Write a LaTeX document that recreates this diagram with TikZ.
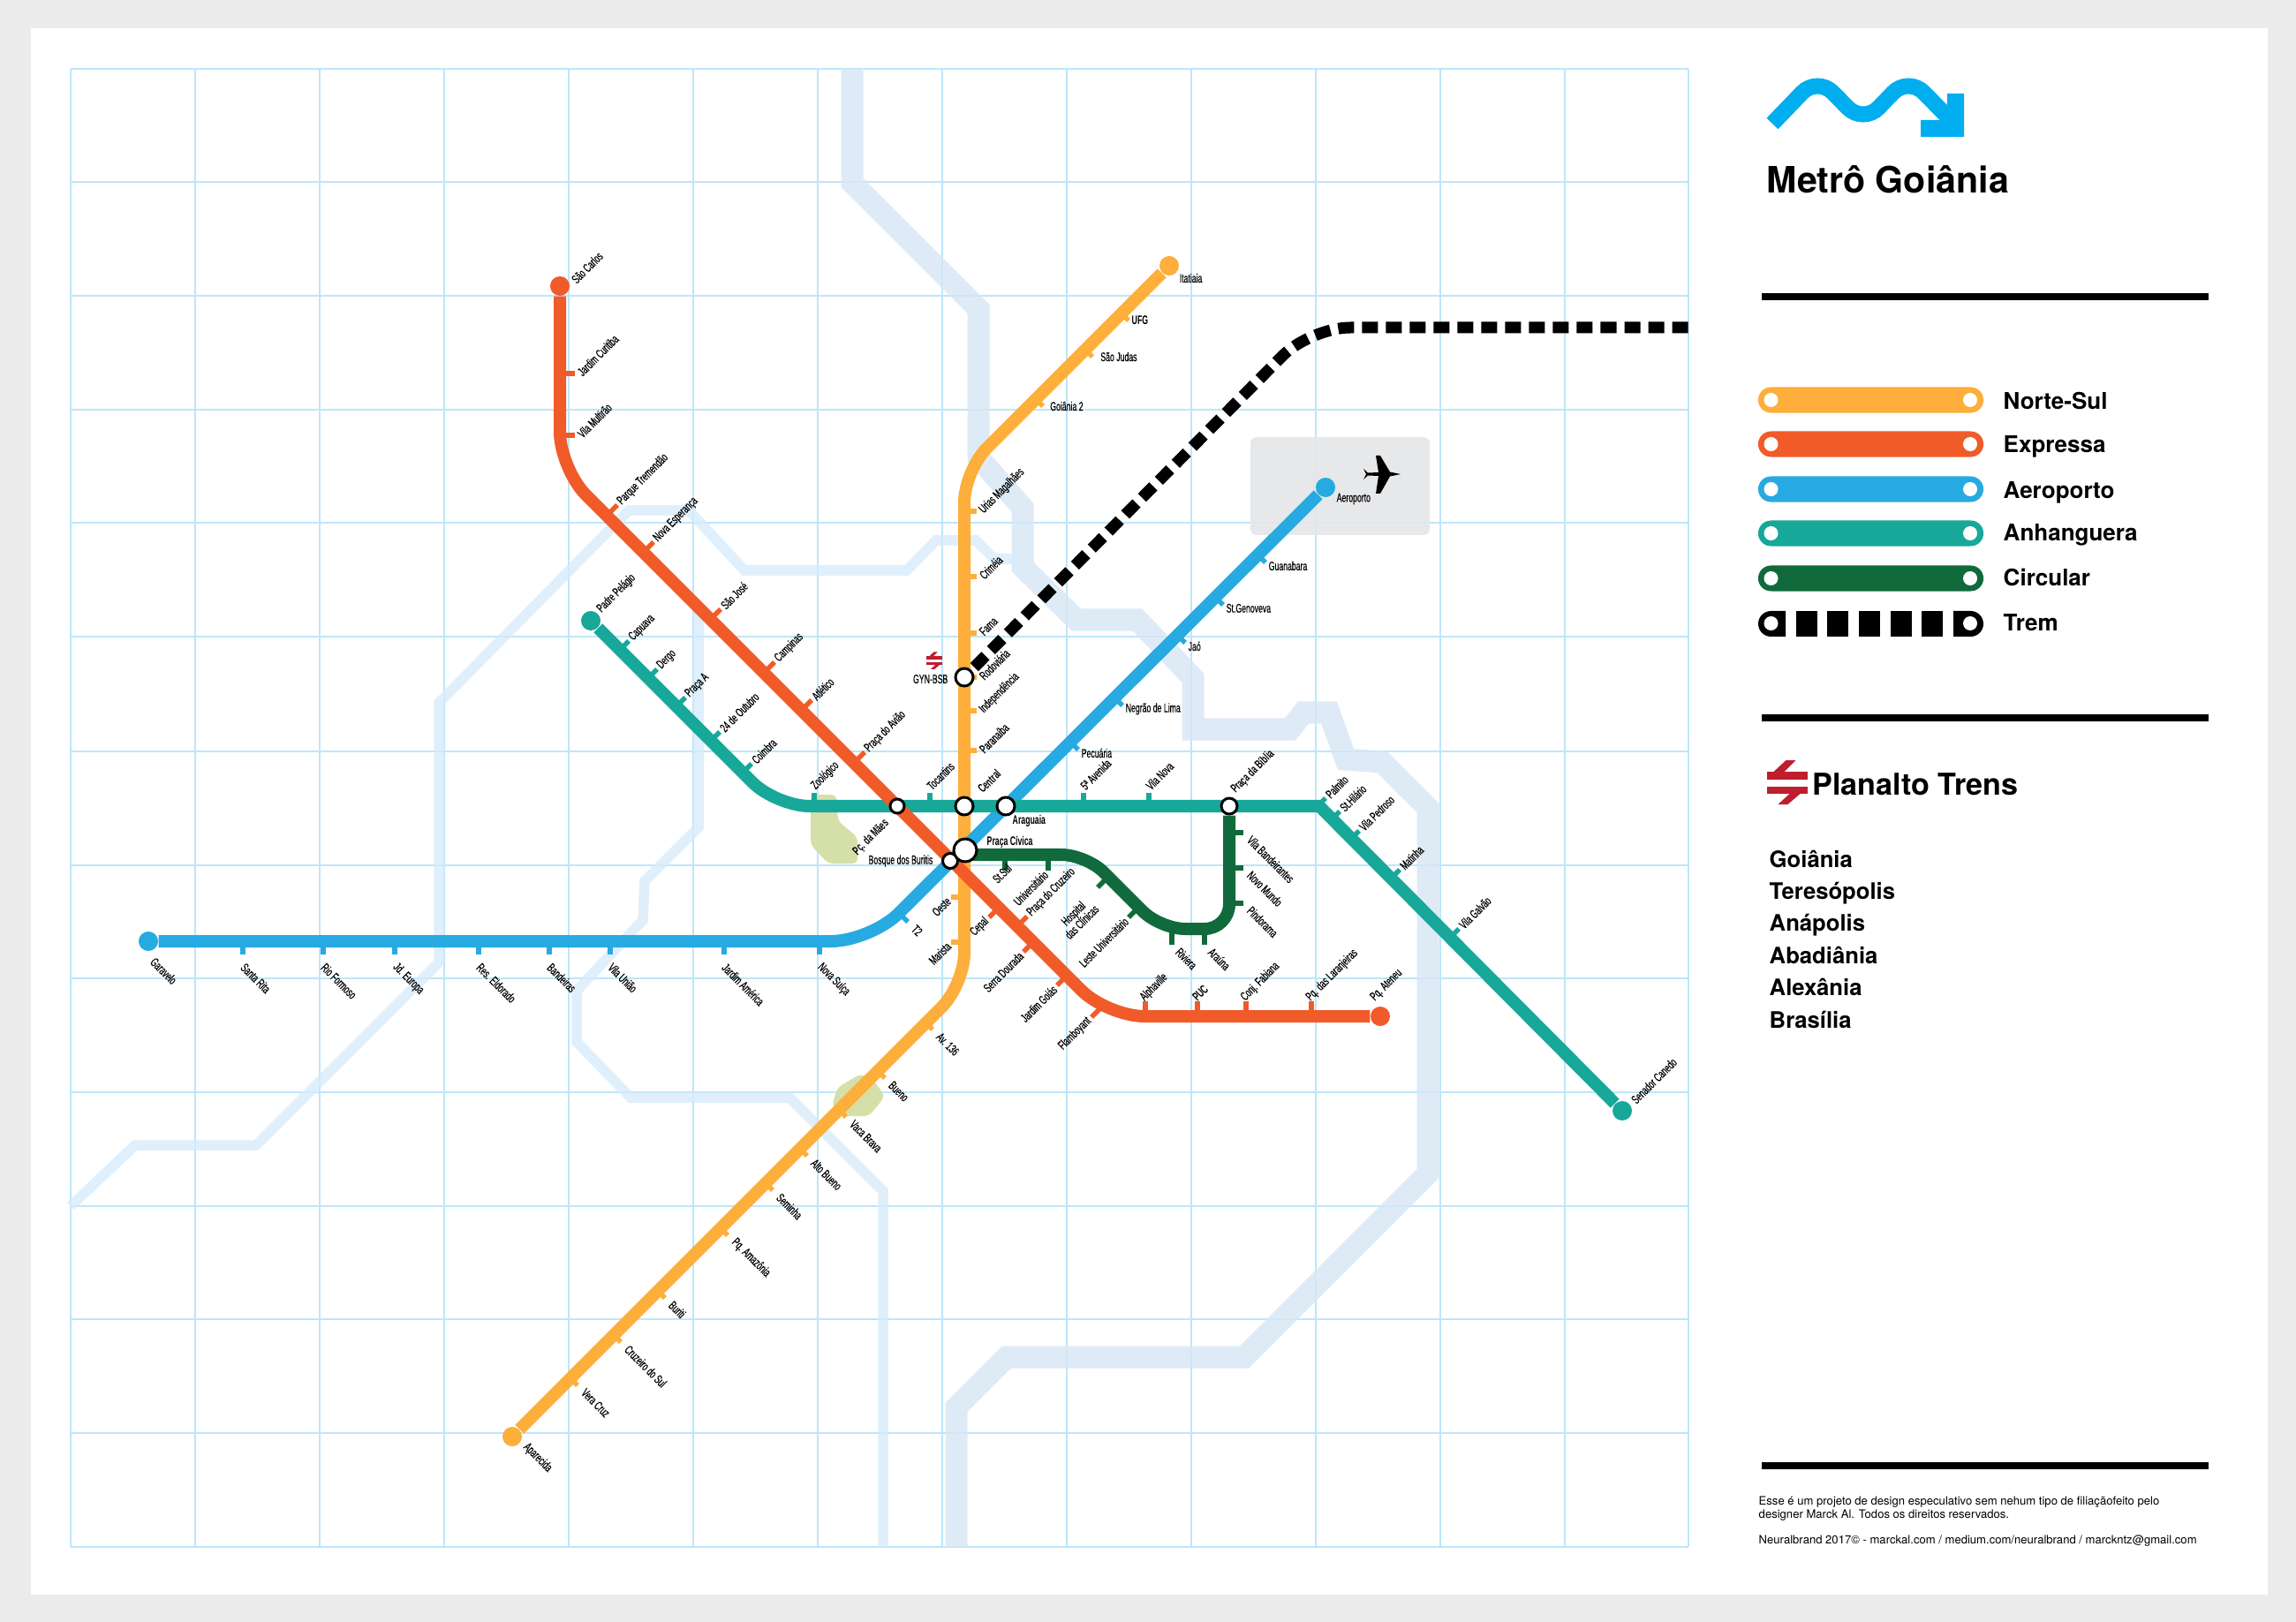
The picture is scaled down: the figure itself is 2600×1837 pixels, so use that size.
\documentclass[tikz,border=0pt]{standalone}
\usepackage{fontspec}
\setmainfont{TeX Gyre Heros}
\newfontfamily\stopfont[FakeStretch=0.62, FakeBold=.3]{Liberation Sans}
\newfontfamily\stopboldfont[FakeStretch=0.62, UprightFont={* Bold}]{Liberation Sans}
\usepackage{pgf, tikz}
\pgfdeclarelayer{maplayer}
\pgfdeclarelayer{edgelayer}
\pgfdeclarelayer{nodelayer}
\pgfsetlayers{maplayer,edgelayer,nodelayer,main}
\definecolor{nortesul}{HTML}{FDAE3B}
\definecolor{expressa}{HTML}{F15A29}
\definecolor{aeroporto}{HTML}{27AAE1}
\definecolor{anhanguera}{HTML}{17A89A}
\definecolor{circular}{HTML}{116A3B}
\definecolor{gridblue}{HTML}{BDE6FA}
\definecolor{roadblue}{HTML}{D6E6F6}
\definecolor{streetblue}{HTML}{D7ECFA}
\definecolor{parkgreen}{HTML}{D5E0A8}
\definecolor{railred}{HTML}{BE1E2D}
\definecolor{logoblue}{HTML}{00AEEF}
\definecolor{panelgrey}{HTML}{E6E7E9}
\tikzstyle{gridline}=[draw=gridblue, line width=.02cm]
\tikzstyle{road}=[draw=roadblue, line width=.25cm, opacity=.8]
\tikzstyle{street}=[draw=streetblue, line width=.115cm, opacity=.8]
\tikzstyle{park}=[fill=parkgreen, rounded corners=.06cm]
\tikzstyle{line}=[line width=.14cm, line join=round]
\tikzstyle{trem}=[draw=black, line width=.13cm, dash pattern=on .18cm off .09cm, dash phase=.11cm, rounded corners=.45cm]
\tikzstyle{tick}=[line width=.055cm]
\tikzstyle{terminal}=[circle, inner sep=0, minimum size=.22cm]
\tikzstyle{interchange}=[circle, inner sep=0, fill=white, draw=black, line width=.03cm]
\tikzstyle{stoplabel}=[font=\stopfont\fontsize{4pt}{3.9pt}\selectfont, inner sep=.03cm, text=black]
\tikzstyle{boldlabel}=[stoplabel, font=\stopboldfont\fontsize{4pt}{3.9pt}\selectfont]
\tikzstyle{lblup}=[stoplabel, rotate=45, anchor=west]
\tikzstyle{lblright}=[stoplabel, xshift=.8pt, yshift=-.8pt, rotate=45, anchor=west]
\tikzstyle{lblteal}=[stoplabel, xshift=-1pt, yshift=1pt, rotate=45, anchor=west]
\tikzstyle{lblbottom}=[stoplabel, xshift=-1.7pt, rotate=45, anchor=west]
\tikzstyle{lblback}=[stoplabel, rotate=45, anchor=east]
\tikzstyle{lbldown}=[stoplabel, xshift=1.2pt, yshift=-1pt, rotate=-45, anchor=west]
\tikzstyle{lblbelow}=[stoplabel, xshift=-.7pt, yshift=-2.8pt, rotate=-45, anchor=west]
\tikzstyle{lblflat}=[stoplabel, anchor=west]
\tikzstyle{lblblue}=[stoplabel, yshift=-1.1pt, anchor=west]
\tikzstyle{divider}=[draw=black, line width=.085cm]
\tikzstyle{legendbar}=[rectangle, inner sep=0, minimum width=2.55cm, minimum height=.29cm, rounded corners=.145cm]
\tikzstyle{legendhole}=[circle, inner sep=0, fill=white, minimum size=.16cm]
\tikzstyle{legendtext}=[anchor=base west, inner sep=0, font=\bfseries\fontsize{7.4pt}{9pt}\selectfont]
\tikzstyle{citytext}=[anchor=base west, inner sep=0, font=\bfseries\fontsize{7.3pt}{9pt}\selectfont]
\tikzstyle{foottext}=[anchor=west, inner sep=0, align=left, font=\fontsize{3.72pt}{4.3pt}\selectfont]
\tikzset{railmark/.pic={
	\fill [railred] (-23,-12) rectangle (23,-3);
	\fill [railred] (-23,5) rectangle (23,13);
	\fill [railred] (-1,-25) -- (10,-25) -- (-3,-12) -- (-15,-12) -- cycle;
	\fill [railred] (3,13) -- (15,13) -- (1,25) -- (-10,25) -- cycle;
}}
% base of the tick, tick vector, label style
\newcommand{\stopmark}[6]{
	\coordinate (#1base) at (#3);
	\coordinate (#1end) at ([shift={(#4)}]#1base);
	\draw [style=tick, draw=#2] (#1base) to (#1end);
	\node [style=#5] (#1) at (#1end) {#6};
}

\begin{document}
\begin{tikzpicture}[x=.01cm, y=-.01cm]
	\useasboundingbox (0,0) rectangle (2600,1837);
	\begin{pgfonlayer}{maplayer}
		\fill [color=black!8] (0,0) rectangle (2600,1837);
		\fill [color=white] (35,32) rectangle (2568,1806);
		% grid
		\draw [style=gridline] (80,78) to (80,1752);
		\draw [style=gridline] (221,78) to (221,1752);
		\draw [style=gridline] (362,78) to (362,1752);
		\draw [style=gridline] (503,78) to (503,1752);
		\draw [style=gridline] (644,78) to (644,1752);
		\draw [style=gridline] (785,78) to (785,1752);
		\draw [style=gridline] (926,78) to (926,1752);
		\draw [style=gridline] (1067,78) to (1067,1752);
		\draw [style=gridline] (1208,78) to (1208,1752);
		\draw [style=gridline] (1349,78) to (1349,1752);
		\draw [style=gridline] (1490,78) to (1490,1752);
		\draw [style=gridline] (1631,78) to (1631,1752);
		\draw [style=gridline] (1772,78) to (1772,1752);
		\draw [style=gridline] (1912,78) to (1912,1752);
		\draw [style=gridline] (80,78) to (1912,78);
		\draw [style=gridline] (80,206) to (1912,206);
		\draw [style=gridline] (80,335) to (1912,335);
		\draw [style=gridline] (80,464) to (1912,464);
		\draw [style=gridline] (80,592) to (1912,592);
		\draw [style=gridline] (80,721) to (1912,721);
		\draw [style=gridline] (80,851) to (1912,851);
		\draw [style=gridline] (80,980) to (1912,980);
		\draw [style=gridline] (80,1108) to (1912,1108);
		\draw [style=gridline] (80,1237) to (1912,1237);
		\draw [style=gridline] (80,1366) to (1912,1366);
		\draw [style=gridline] (80,1494) to (1912,1494);
		\draw [style=gridline] (80,1623) to (1912,1623);
		\draw [style=gridline] (80,1752) to (1912,1752);
		% parks and airport
		\fill [style=park] (918,900) -- (947,900) -- (949,930) -- (971,948) -- (971,978) -- (938,978) -- (918,957) -- cycle;
		\fill [style=park] (975,1216) -- (990,1224) -- (1002,1242) -- (984,1264) -- (956,1264) -- (942,1253) -- (948,1232) -- cycle;
		\fill [color=panelgrey, opacity=.92, rounded corners=.07cm] (1416,495) rectangle (1619,606);
		% roads
		\draw [style=road] (965,78) -- (965,207) -- (1108,350) -- (1108,518) -- (1158,575) -- (1158,642) -- (1219,702) -- (1288,702) -- (1351,768) -- (1351,826) -- (1461,826) -- (1476,807) -- (1505,807) -- (1524,860) -- (1565,863) -- (1617,915) -- (1617,1329) -- (1409,1537) -- (1140,1537) -- (1083,1594) -- (1083,1752);
		\draw [style=street] (80,1366) -- (153,1297) -- (290,1297) -- (497,1090) -- (497,796) -- (712,578) -- (780,578) -- (843,646) -- (1027,646) -- (1060,612) -- (1105,612) -- (1126,633) -- (1155,633);
		\draw [style=street] (791,690) -- (791,937) -- (730,998) -- (728,1042) -- (653,1122) -- (653,1180) -- (714,1243) -- (894,1243) -- (1000,1349) -- (1000,1752);
	\end{pgfonlayer}
	\begin{pgfonlayer}{nodelayer}
		% line ends
		\node [style=terminal, fill=nortesul] (itatiaia) at (1324,301) {};
		\node [style=terminal, fill=nortesul] (aparecida) at (580,1627) {};
		\node [style=terminal, fill=expressa] (saocarlos) at (634,324) {};
		\node [style=terminal, fill=expressa] (pqateneu) at (1563,1151) {};
		\node [style=terminal, fill=aeroporto] (garavelo) at (168,1066) {};
		\node [style=terminal, fill=aeroporto] (aeroportoend) at (1501,552) {};
		\node [style=terminal, fill=anhanguera] (padrepelagio) at (669,703) {};
		\node [style=terminal, fill=anhanguera] (senadorcanedo) at (1837,1258) {};
		\node [style=lblflat] at (1332,315) {Itatiaia};
		\node [style=lbldown] at (588,1631) {Aparecida};
		\node [style=lblup] at (647,321) {São Carlos};
		\node [style=lblup] at (1552,1134) {Pq. Ateneu};
		\node [style=lbldown] at (166,1081) {Garavelo};
		\node [style=lblflat] at (1510,565) {Aeroporto};
		\node [style=lblup] at (676,694) {Padre Pelágio};
		\node [style=lblup] at (1847,1250) {Senador Canedo};
		% Norte-Sul
		\stopmark{ufg}{nortesul}{1270,355}{8,8}{boldlabel, anchor=west}{UFG}
		\stopmark{saojudas}{nortesul}{1229,396}{8,8}{lblflat, xshift=1.6pt}{São Judas}
		\stopmark{goiania}{nortesul}{1173,452}{8,8}{lblflat, xshift=1.3pt}{Goiânia 2}
		\stopmark{urias}{nortesul}{1092,579}{14,0}{lblright}{Urias Magalhães}
		\stopmark{crimeia}{nortesul}{1092,653}{14,0}{lblright}{Criméia}
		\stopmark{fama}{nortesul}{1092,717}{14,0}{lblright}{Fama}
		\stopmark{rodoviaria}{nortesul}{1092,767}{14,0}{lblright}{Rodoviária}
		\stopmark{independencia}{nortesul}{1092,805}{14,0}{lblright}{Independência}
		\stopmark{paranaiba}{nortesul}{1092,850}{14,0}{lblright}{Paranaíba}
		\stopmark{oeste}{nortesul}{1092,1016}{-15,0}{lblback}{Oeste}
		\stopmark{marista}{nortesul}{1092,1067}{-15,0}{lblback}{Marista}
		\stopmark{av}{nortesul}{1048,1158}{8,8}{lbldown}{Av. 136}
		\stopmark{bueno}{nortesul}{994,1213}{8,8}{lbldown}{Bueno}
		\stopmark{vacabrava}{nortesul}{950,1257}{8,8}{lbldown}{Vaca Brava}
		\stopmark{altobueno}{nortesul}{906,1301}{8,8}{lbldown}{Alto Bueno}
		\stopmark{seminha}{nortesul}{867,1340}{8,8}{lbldown}{Seminha}
		\stopmark{amazonia}{nortesul}{816,1391}{8,8}{lbldown}{Pq. Amazônia}
		\stopmark{buriti}{nortesul}{745,1462}{8,8}{lbldown}{Buriti}
		\stopmark{cruzeirosul}{nortesul}{695,1512}{8,8}{lbldown}{Cruzeiro do Sul}
		\stopmark{veracruz}{nortesul}{646,1561}{8,8}{lbldown}{Vera Cruz}
		% Expressa
		\stopmark{curitiba}{expressa}{634,423}{17,0}{lblright}{Jardim Curitiba}
		\stopmark{multirao}{expressa}{634,493}{17,0}{lblright}{Vila Multirão}
		\stopmark{tremendao}{expressa}{687,584}{12,-12}{lblup}{Parque Tremendão}
		\stopmark{esperanca}{expressa}{728,626}{12,-12}{lblup}{Nova Esperança}
		\stopmark{saojose}{expressa}{804,702}{12,-12}{lblup}{São José}
		\stopmark{campinas}{expressa}{865,762}{12,-12}{lblup}{Campinas}
		\stopmark{atletico}{expressa}{907,805}{12,-12}{lblup}{Atlético}
		\stopmark{aviao}{expressa}{967,864}{12,-12}{lblup}{Praça do Avião}
		\stopmark{cepal}{expressa}{1131,1028}{-11,11}{lblback}{Cepal}
		\stopmark{cruzeiro}{expressa}{1151,1050}{12,-12}{lblup}{Praça do Cruzeiro}
		\stopmark{serradourada}{expressa}{1170,1067}{-11,11}{lblback}{Serra Dourada}
		\stopmark{jardimgoias}{expressa}{1208,1105}{-11,11}{lblback}{Jardim Goiás}
		\stopmark{flamboyant}{expressa}{1246,1142}{-10,10}{lblback}{Flamboyant}
		\stopmark{alphaville}{expressa}{1297,1151}{0,-17}{lblbottom}{Alphaville}
		\stopmark{puc}{expressa}{1356,1151}{0,-17}{boldlabel, xshift=-1.7pt, rotate=45, anchor=west}{PUC}
		\stopmark{fabiana}{expressa}{1411,1151}{0,-17}{lblbottom}{Conj. Fabiana}
		\stopmark{laranjeiras}{expressa}{1485,1151}{0,-17}{lblbottom}{Pq. das Laranjeiras}
		% Aeroporto
		\stopmark{santarita}{aeroporto}{275,1066}{0,15}{lblbelow}{Santa Rita}
		\stopmark{rioformoso}{aeroporto}{366,1066}{0,15}{lblbelow}{Rio Formoso}
		\stopmark{jdeuropa}{aeroporto}{447,1066}{0,15}{lblbelow}{Jd. Europa}
		\stopmark{eldorado}{aeroporto}{542,1066}{0,15}{lblbelow}{Res. Eldorado}
		\stopmark{bandeiras}{aeroporto}{622,1066}{0,15}{lblbelow}{Bandeiras}
		\stopmark{vilauniao}{aeroporto}{691,1066}{0,15}{lblbelow}{Vila União}
		\stopmark{jdamerica}{aeroporto}{820,1066}{0,15}{lblbelow}{Jardim América}
		\stopmark{novasuica}{aeroporto}{928,1066}{0,15}{lblbelow}{Nova Suíça}
		\stopmark{tdois}{aeroporto}{1018,1034}{10,10}{lbldown}{T2}
		\stopmark{pecuaria}{aeroporto}{1212,840}{9,9}{lblblue}{Pecuária}
		\stopmark{negrao}{aeroporto}{1262,790}{9,9}{lblblue}{Negrão de Lima}
		\stopmark{jao}{aeroporto}{1333,719}{9,9}{lblblue}{Jaó}
		\stopmark{genoveva}{aeroporto}{1376,676}{9,9}{lblblue}{St.Genoveva}
		\stopmark{guanabara}{aeroporto}{1424,628}{9,9}{lblblue}{Guanabara}
		% Anhanguera
		\stopmark{capuava}{anhanguera}{702,736}{10,-10}{lblup}{Capuava}
		\stopmark{dergo}{anhanguera}{734,768}{10,-10}{lblup}{Dergo}
		\stopmark{pracaa}{anhanguera}{766,800}{10,-10}{lblup}{Praça A}
		\stopmark{outubro}{anhanguera}{805,839}{10,-10}{lblup}{24 de Outubro}
		\stopmark{coimbra}{anhanguera}{841,875}{10,-10}{lblup}{Coimbra}
		\stopmark{zoologico}{anhanguera}{922,913}{0,-15}{lblteal}{Zoológico}
		\stopmark{tocantins}{anhanguera}{1053,913}{0,-15}{lblteal}{Tocantins}
		\stopmark{avenida}{anhanguera}{1227,913}{0,-15}{lblteal}{5ª Avenida}
		\stopmark{vilanova}{anhanguera}{1301,913}{0,-15}{lblteal}{Vila Nova}
		\stopmark{palmito}{anhanguera}{1492,913}{9,-9}{lblup}{Palmito}
		\stopmark{hilario}{anhanguera}{1508,928}{9,-9}{lblup}{St.Hilário}
		\stopmark{pedroso}{anhanguera}{1530,950}{9,-9}{lblup}{Vila Pedroso}
		\stopmark{matinha}{anhanguera}{1575,995}{10,-10}{lblup}{Matinha}
		\stopmark{galvao}{anhanguera}{1642,1062}{10,-10}{lblup}{Vila Galvão}
		% Circular
		\stopmark{stsul}{circular}{1138,968}{0,18}{lblback, xshift=3pt}{St.Sul}
		\stopmark{universitario}{circular}{1187,968}{0,18}{lblback}{Universitário}
		\stopmark{clinicas}{circular}{1255,993}{-12,12}{lblback, xshift=-3.7pt, yshift=-2.3pt, align=center}{Hospital\\das Clínicas}
		\stopmark{leste}{circular}{1290,1027}{-12,12}{lblback}{Leste Universitário}
		\stopmark{riviera}{circular}{1327,1052}{0,18}{lbldown}{Riviera}
		\stopmark{arauna}{circular}{1364,1052}{0,18}{lbldown}{Araúna}
		\stopmark{bandeirantes}{circular}{1392,943}{16,0}{lbldown}{Vila Bandeirantes}
		\stopmark{novomundo}{circular}{1392,983}{16,0}{lbldown}{Novo Mundo}
		\stopmark{pindorama}{circular}{1392,1023}{16,0}{lbldown}{Pindorama}
		% interchanges
		\node [style=interchange, minimum size=.2cm] (gynbsb) at (1092,767) {};
		\node [style=interchange, minimum size=.16cm] (pcmaes) at (1016,913) {};
		\node [style=interchange, minimum size=.2cm] (central) at (1092,913) {};
		\node [style=interchange, minimum size=.2cm] (araguaia) at (1139,913) {};
		\node [style=interchange, minimum size=.18cm] (pracabiblia) at (1392,913) {};
		\node [style=interchange, minimum size=.17cm] (bosque) at (1076,975) {};
		\node [style=interchange, minimum size=.26cm] (pracacivica) at (1093,963) {};
		\node [style=stoplabel, anchor=east] at (1077,769) {GYN-BSB};
		\node [style=boldlabel, rotate=45, anchor=east] at (1007,928) {Pç. da Mães};
		\node [style=boldlabel, rotate=45, anchor=west] at (1107,898) {Central};
		\node [style=boldlabel, anchor=west] at (1143,930) {Araguaia};
		\node [style=boldlabel, rotate=45, anchor=west] at (1394,899) {Praça da Bíblia};
		\node [style=boldlabel, anchor=west] at (1114,954) {Praça Cívica};
		\node [style=stoplabel, anchor=east] at (1060,975) {Bosque dos Buritis};
		\pic [scale=.39] at (1058,748) {railmark};
		% plane
		\fill [color=black] (1586,537) -- (1574,534.5) -- (1563,516) -- (1558,516) -- (1561,535) -- (1549,535.5) -- (1544,531) -- (1547,537) -- (1544,543) -- (1549,538.5) -- (1561,539) -- (1558,559) -- (1563,559) -- (1574,539.5) -- cycle;
		% title
		\fill [color=logoblue] (2205,106) -- (2224,106) -- (2224,155) -- (2175,155) -- (2175,136) -- (2205,136) -- cycle;
		\draw [color=logoblue, line width=.18cm, rounded corners=.25cm] (2007,140) -- (2058,87) -- (2110,140) -- (2161,87) -- (2215,142);
		\node [anchor=base west, inner sep=0, font=\bfseries\fontsize{11.7pt}{14pt}\selectfont] (title) at (2000,219) {Metrô Goiânia};
		\draw [style=divider] (1995,336) to (2501,336);
		\draw [style=divider] (1995,813) to (2501,813);
		\draw [style=divider] (1995,1660) to (2501,1660);
		% legend
		\node [style=legendbar, fill=nortesul] (bar0) at (2118.5,453) {};
		\node [style=legendbar, fill=expressa] (bar1) at (2118.5,503) {};
		\node [style=legendbar, fill=aeroporto] (bar2) at (2118.5,554) {};
		\node [style=legendbar, fill=anhanguera] (bar3) at (2118.5,604) {};
		\node [style=legendbar, fill=circular] (bar4) at (2118.5,655) {};
		\fill [color=black] (2022,692) -- (2005.5,692) arc (270:90:14.5) -- (2022,721) -- cycle;
		\fill [color=black] (2033.5,692) rectangle (2057.5,721);
		\fill [color=black] (2069,692) rectangle (2093,721);
		\fill [color=black] (2105,692) rectangle (2129,721);
		\fill [color=black] (2140.5,692) rectangle (2164.5,721);
		\fill [color=black] (2176,692) rectangle (2200,721);
		\fill [color=black] (2212,692) -- (2231.5,692) arc (-90:90:14.5) -- (2212,721) -- cycle;
		\node [style=legendhole] at (2005.5,453) {};
		\node [style=legendhole] at (2231,453) {};
		\node [style=legendhole] at (2005.5,503) {};
		\node [style=legendhole] at (2231,503) {};
		\node [style=legendhole] at (2005.5,554) {};
		\node [style=legendhole] at (2231,554) {};
		\node [style=legendhole] at (2005.5,604) {};
		\node [style=legendhole] at (2231,604) {};
		\node [style=legendhole] at (2005.5,655) {};
		\node [style=legendhole] at (2231,655) {};
		\node [style=legendhole] at (2005.5,706) {};
		\node [style=legendhole] at (2231,706) {};
		\node [style=legendtext] (text0) at (2268,464) {Norte-Sul};
		\node [style=legendtext] (text1) at (2268,513) {Expressa};
		\node [style=legendtext] (text2) at (2268,565) {Aeroporto};
		\node [style=legendtext] (text3) at (2268,613) {Anhanguera};
		\node [style=legendtext] (text4) at (2268,663) {Circular};
		\node [style=legendtext] (text5) at (2268,715) {Trem};
		% trains
		\pic [scale=1] at (2023.5,886) {railmark};
		\node [anchor=base west, inner sep=0, font=\bfseries\fontsize{9.7pt}{12pt}\selectfont] (planalto) at (2052,900) {Planalto Trens};
		\node [style=citytext] at (2003,982) {Goiânia};
		\node [style=citytext] at (2003,1018) {Teresópolis};
		\node [style=citytext] at (2003,1054) {Anápolis};
		\node [style=citytext] at (2003,1091) {Abadiânia};
		\node [style=citytext] at (2003,1127) {Alexânia};
		\node [style=citytext] at (2003,1164) {Brasília};
		\node [style=foottext] (note) at (1991,1709) {Esse é um projeto de design especulativo sem nehum tipo de filiaçãofeito pelo\\designer Marck Al. Todos os direitos reservados.};
		\node [style=foottext] (credit) at (1991,1745) {Neuralbrand 2017© - marckal.com / medium.com/neuralbrand / marckntz@gmail.com};
	\end{pgfonlayer}
	\begin{pgfonlayer}{edgelayer}
		\coordinate (tr1) at (1484,371);
		\coordinate (tr2) at (1912,371);
		\coordinate (ns1) at (1092,533);
		\coordinate (ns2) at (1092,1115);
		\coordinate (ex1) at (634,531);
		\coordinate (ex2) at (1254,1151);
		\coordinate (ae1) at (986,1066);
		\coordinate (an1) at (879,913);
		\coordinate (an2) at (1494,913);
		\coordinate (ci0) at (1093,968);
		\coordinate (ci1) at (1230,968);
		\coordinate (ci2) at (1314,1052);
		\coordinate (ci3) at (1392,1052);
		\draw [style=trem] (gynbsb.center) -- (tr1) -- (tr2);
		\draw [style=line, draw=nortesul, rounded corners=.36cm] (itatiaia) -- (ns1) -- (ns2) -- (aparecida);
		\draw [style=line, draw=aeroporto, rounded corners=.45cm] (garavelo) -- (ae1) -- (aeroportoend);
		\draw [style=line, draw=anhanguera] (padrepelagio) [rounded corners=.38cm] -- (an1) [sharp corners] -- (an2) -- (senadorcanedo);
		\draw [style=line, draw=expressa, rounded corners=.42cm] (saocarlos) -- (ex1) -- (ex2) -- (pqateneu);
		\draw [style=line, draw=circular, rounded corners=.28cm] (ci0) -- (ci1) -- (ci2) -- (ci3) -- (pracabiblia);
	\end{pgfonlayer}
\end{tikzpicture}
\end{document}
